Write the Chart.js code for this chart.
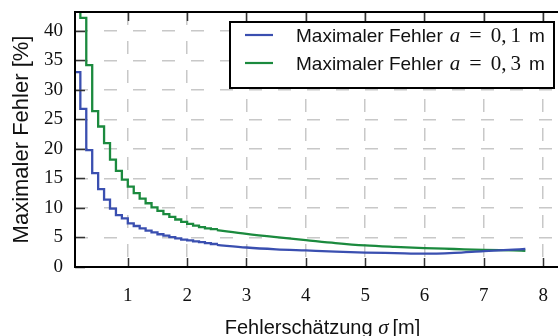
<!DOCTYPE html>
<html>
<head>
<meta charset="utf-8">
<script src="https://cdn.jsdelivr.net/npm/chart.js@4.4.1/dist/chart.umd.min.js"></script>
<style>
  html, body { margin: 0; padding: 0; background: #fff; }
  #wrap { width: 558px; height: 336px; }
</style>
</head>
<body>
<div id="wrap"><canvas id="fehler-chart"></canvas></div>
<script>
// Stepped part: each value holds from sigma up to the next sigma
const sigmaSteps = [0.1, 0.2, 0.3, 0.4, 0.5, 0.6, 0.7, 0.8, 0.9, 1.0,
                    1.1, 1.2, 1.3, 1.4, 1.5, 1.6, 1.7, 1.8, 1.9, 2.0,
                    2.1, 2.2, 2.3, 2.4, 2.5];
const fehlerA01Steps = [33.0, 26.8, 19.8, 15.9, 13.2, 11.4, 9.9, 8.8, 8.25, 7.4,
                        6.95, 6.55, 6.15, 5.85, 5.55, 5.3, 5.05, 4.85, 4.65, 4.5,
                        4.35, 4.2, 4.05, 3.9, 3.75];
const fehlerA03Steps = [50.0, 42.2, 34.2, 26.4, 23.8, 21.0, 18.2, 16.3, 14.8, 13.6,
                        12.5, 11.6, 10.8, 10.1, 9.5, 8.95, 8.5, 8.05, 7.65, 7.3,
                        7.0, 6.75, 6.55, 6.4, 6.25];

// Smooth tail, steps are too small to see here
const sigmaTail = [2.5, 3.0, 3.5, 4.0, 4.5, 5.0, 5.5, 6.0, 6.5, 7.0, 7.5, 7.7];
const fehlerA01Tail = [3.75, 3.3, 3.0, 2.8, 2.6, 2.45, 2.35, 2.25, 2.4, 2.7, 2.95, 3.05];
const fehlerA03Tail = [6.25, 5.6, 5.05, 4.55, 4.05, 3.65, 3.4, 3.2, 3.05, 2.9, 2.8, 2.75];

const aValues = [['0,', '1'], ['0,', '3']];
const xTicks = [1, 2, 3, 4, 5, 6, 7, 8];
const yTicks = [0, 5, 10, 15, 20, 25, 30, 35, 40];

const BLUE = '#3a4fb0';
const GREEN = '#1b8a3e';
const SANS = "'Liberation Sans', Arial, sans-serif";
const SERIF = "'Liberation Serif', 'DejaVu Serif', serif";

const pts = (xs, ys) => xs.map((x, i) => ({ x: x, y: ys[i] }));

// draw a run of [text, font, gapAfter] pieces, return end x
function drawRun(ctx, parts, x, y) {
  parts.forEach(([t, f, gap]) => {
    ctx.font = f;
    ctx.fillText(t, x, y);
    x += ctx.measureText(t).width + (gap || 0);
  });
  return x;
}

function runWidth(ctx, parts) {
  let w = 0;
  parts.forEach(([t, f, gap]) => { ctx.font = f; w += ctx.measureText(t).width + (gap || 0); });
  return w;
}

// inward ticks and the black frame (left, bottom, top)
const frame = {
  id: 'frame',
  afterDatasetsDraw(chart) {
    const { ctx, chartArea: a, scales: { x, y } } = chart;
    ctx.save();
    ctx.strokeStyle = '#333';
    ctx.lineWidth = 1.5;
    ctx.beginPath();
    xTicks.forEach(v => {
      const px = Math.round(x.getPixelForValue(v)) + 0.5;
      ctx.moveTo(px, a.bottom); ctx.lineTo(px, a.bottom - 9);
      ctx.moveTo(px, a.top); ctx.lineTo(px, a.top + 9);
    });
    yTicks.forEach(v => {
      const py = Math.round(y.getPixelForValue(v)) + 0.5;
      ctx.moveTo(a.left, py); ctx.lineTo(a.left + 10, py);
    });
    ctx.stroke();
    ctx.strokeStyle = '#000';
    ctx.lineWidth = 2;
    ctx.beginPath();
    ctx.moveTo(a.right, a.top); ctx.lineTo(a.left, a.top);
    ctx.lineTo(a.left, a.bottom); ctx.lineTo(a.right, a.bottom);
    ctx.stroke();
    ctx.restore();
  }
};

// axis titles and legend box, both with mixed text/math fonts
const annotations = {
  id: 'annotations',
  afterDraw(chart) {
    const { ctx, chartArea: a } = chart;
    ctx.save();
    ctx.fillStyle = '#111';
    ctx.textBaseline = 'alphabetic';

    // x title
    const xTitle = [
      ['Fehlerschätzung ', '20px ' + SANS],
      ['σ', 'italic 21px ' + SERIF, 4],
      ['[m]', '20px ' + SANS]
    ];
    const xw = runWidth(ctx, xTitle);
    drawRun(ctx, xTitle, (a.left + a.right) / 2 - xw / 2 + 6, 334);

    // y title, rotated
    ctx.save();
    ctx.translate(28, (a.top + a.bottom) / 2);
    ctx.rotate(-Math.PI / 2);
    ctx.font = '22px ' + SANS;
    ctx.textAlign = 'center';
    ctx.fillText('Maximaler Fehler [%]', 0, 0);
    ctx.restore();

    // legend
    const w = 324, h = 66;
    const x0 = a.right - 4 - w, y0 = a.top + 10;
    ctx.fillStyle = '#fff';
    ctx.fillRect(x0, y0, w, h);
    ctx.strokeStyle = '#000';
    ctx.lineWidth = 2;
    ctx.strokeRect(x0, y0, w, h);
    [BLUE, GREEN].forEach((col, i) => {
      const yy = y0 + 13 + i * 28;
      ctx.strokeStyle = col;
      ctx.lineWidth = 2.2;
      ctx.beginPath();
      ctx.moveTo(x0 + 15, yy); ctx.lineTo(x0 + 43, yy);
      ctx.stroke();
      ctx.fillStyle = '#111';
      drawRun(ctx, [
        ['Maximaler Fehler', '19px ' + SANS, 7],
        ['a', 'italic 21px ' + SERIF, 9],
        ['=', '22px ' + SERIF, 9],
        [aValues[i][0], '21px ' + SERIF, 4],
        [aValues[i][1], '21px ' + SERIF, 8],
        ['m', '19px ' + SANS]
      ], x0 + 66, yy + 7);
    });
    ctx.restore();
  }
};

new Chart(document.getElementById('fehler-chart'), {
  type: 'line',
  data: {
    datasets: [
      { label: 'Maximaler Fehler a = 0,1 m', data: pts(sigmaSteps, fehlerA01Steps),
        borderColor: BLUE, stepped: 'before' },
      { label: 'Maximaler Fehler a = 0,3 m', data: pts(sigmaSteps, fehlerA03Steps),
        borderColor: GREEN, stepped: 'before' },
      { data: pts(sigmaTail, fehlerA01Tail), borderColor: BLUE, cubicInterpolationMode: 'monotone' },
      { data: pts(sigmaTail, fehlerA03Tail), borderColor: GREEN, cubicInterpolationMode: 'monotone' }
    ]
  },
  options: {
    responsive: true,
    maintainAspectRatio: false,
    animation: false,
    events: [],
    elements: {
      point: { radius: 0 },
      line: { borderWidth: 2.3, fill: false }
    },
    layout: { padding: { top: 12, right: 0, left: 0, bottom: 0 } },
    plugins: {
      legend: { display: false },
      tooltip: { enabled: false }
    },
    scales: {
      x: {
        type: 'linear',
        min: 0.11,
        max: 8.25,
        afterFit: s => { s.height = 69; s.paddingLeft = 0; s.paddingRight = 0; },
        ticks: { stepSize: 1, includeBounds: false, padding: 18, color: '#111',
                 font: { family: SERIF, size: 19 } },
        grid: { color: '#c8c8c8', lineWidth: 1.5, drawTicks: false },
        border: { display: false, dash: [13, 16] }
      },
      y: {
        min: 0,
        max: 43.2,
        afterFit: s => { s.width = 75; s.paddingTop = 0; s.paddingBottom = 0; },
        ticks: { stepSize: 5, includeBounds: false, padding: 12, color: '#111',
                 font: { family: SERIF, size: 19 } },
        grid: { color: '#c8c8c8', lineWidth: 1.5, drawTicks: false },
        border: { display: false, dash: [13, 16] }
      }
    }
  },
  plugins: [frame, annotations]
});
</script>
</body>
</html>
